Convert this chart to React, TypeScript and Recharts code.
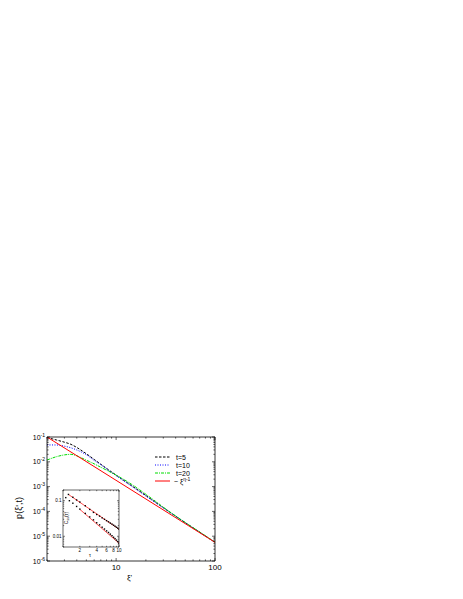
import { ComposedChart, Line, Scatter, XAxis, YAxis, ReferenceLine } from "recharts";

// main panel: p(xi', t) for three times, plus the power-law guide
const xi = [2, 2.5, 3, 3.5, 4, 5, 6, 7, 8, 10, 12, 15, 20, 25, 30, 40, 50, 70, 100];
const pT5 = [0.0955, 0.0755, 0.0617, 0.0504, 0.0378, 0.0211, 0.0125, 0.00794, 0.00543, 0.0029, 0.00176, 0.000962, 0.000437, 0.000233, 0.000141, 6.41e-5, 3.51e-5, 1.45e-5, 5.66e-6];
const pT10 = [0.0479, 0.0476, 0.0427, 0.0365, 0.03, 0.0193, 0.0114, 0.00766, 0.0052, 0.00277, 0.00168, 0.000918, 0.000417, 0.000228, 0.000138, 6.41e-5, 3.51e-5, 1.45e-5, 5.66e-6];
const pT20 = [0.01175, 0.01614, 0.019, 0.02, 0.0174, 0.0116, 0.00826, 0.00603, 0.00462, 0.0029, 0.00193, 0.0011, 0.00049, 0.000256, 0.000148, 6.56e-5, 3.59e-5, 1.48e-5, 5.79e-6];
const fitXi = [2, 100];
const fitP = [0.1, 5.66e-6];

// inset: C_ss(tau)
const tauUpper = [1.25, 1.5, 1.75, 2, 2.5, 3, 3.5, 4, 4.5, 5, 5.5, 6, 6.5, 7, 7.5, 8, 8.5, 9, 9.5, 10];
const cUpper = [0.15, 0.125, 0.105, 0.092, 0.072, 0.057, 0.047, 0.041, 0.037, 0.033, 0.03, 0.0275, 0.0255, 0.0235, 0.022, 0.0205, 0.0192, 0.018, 0.0169, 0.0158];
const tauLower = [1.12, 1.3, 1.5, 1.75, 2, 2.5, 3, 3.5, 4, 4.5, 5, 5.5, 6, 6.5, 7, 7.5, 8, 8.5, 9, 9.5, 10];
const cLower = [0.122, 0.1, 0.085, 0.069, 0.058, 0.044, 0.035, 0.029, 0.024, 0.021, 0.018, 0.016, 0.0142, 0.0128, 0.0115, 0.0104, 0.0094, 0.0086, 0.0078, 0.0071, 0.0064];
const fitUpperTau = [1.25, 10];
const fitUpperC = [0.15, 0.0158];
const fitLowerTau = [2, 10];
const fitLowerC = [0.057, 0.0064];

const mainXDecades = [10, 100];
const mainYDecades = [1e-6, 1e-5, 1e-4, 1e-3, 1e-2, 1e-1];
const insetXLabels = [2, 4, 6, 8, 10];
const insetYDecades = [0.01, 0.1];

const legendItems = [
  { label: "t=5", color: "#000000", dash: "2.5 1.5" },
  { label: "t=10", color: "#0000ff", dash: "1 1.5" },
  { label: "t=20", color: "#00dd00", dash: "3 1 1 1" },
  { label: "fit", color: "#ff0000", dash: "" },
];

const mainRows = xi.map((x, i) => ({ xi: x, t5: pT5[i], t10: pT10[i], t20: pT20[i] }));
const fitRows = fitXi.map((x, i) => ({ xi: x, p: fitP[i] }));
const upperRows = tauUpper.map((t, i) => ({ tau: t, c: cUpper[i] }));
const lowerRows = tauLower.map((t, i) => ({ tau: t, c: cLower[i] }));
const fitUpperRows = fitUpperTau.map((t, i) => ({ tau: t, c: fitUpperC[i] }));
const fitLowerRows = fitLowerTau.map((t, i) => ({ tau: t, c: fitLowerC[i] }));

const minors = [2, 3, 4, 5, 6, 7, 8, 9];
const mainXTicks = [2, 3, 4, 5, 6, 7, 8, 9, 10, ...minors.map((m) => m * 10), 100];
const mainYTicks = [
  ...mainYDecades.slice(0, -1).flatMap((d) => [d, ...minors.map((m) => m * d)]),
  1e-1,
];
const insetXTicks = [1, 2, 3, 4, 5, 6, 7, 8, 9, 10];
const insetYTicks = [0.005, 0.006, 0.007, 0.008, 0.009, 0.01, ...minors.map((m) => m * 0.01), 0.1, 0.2];

const PLOT_W = 168;
const PLOT_H = 124;
const INSET_W = 56;
const INSET_H = 57;

function isDecade(v: number) {
  const l = Math.log10(v);
  return Math.abs(l - Math.round(l)) < 1e-6;
}

function MainXTick({ x, y, payload }: any) {
  const v = payload.value;
  const major = mainXDecades.includes(v);
  const len = major ? 3 : 1.6;
  return (
    <g>
      <line x1={x} y1={y} x2={x} y2={y - len} stroke="#000" strokeWidth={0.6} />
      <line x1={x} y1={y - PLOT_H} x2={x} y2={y - PLOT_H + len} stroke="#000" strokeWidth={0.6} />
      {major && (
        <text x={x} y={y + 9} textAnchor="middle" fontSize={8} fill="#000">
          {v}
        </text>
      )}
    </g>
  );
}

function MainYTick({ x, y, payload }: any) {
  const v = payload.value;
  const major = isDecade(v);
  const len = major ? 3 : 1.6;
  const exp = Math.round(Math.log10(v));
  return (
    <g>
      <line x1={x} y1={y} x2={x + len} y2={y} stroke="#000" strokeWidth={0.6} />
      <line x1={x + PLOT_W} y1={y} x2={x + PLOT_W - len} y2={y} stroke="#000" strokeWidth={0.6} />
      {major && (
        <text x={x - 2} y={y + 2.5} textAnchor="end" fontSize={7} fill="#000">
          <tspan>10</tspan>
          <tspan dy={-3} fontSize={5}>{exp}</tspan>
        </text>
      )}
    </g>
  );
}

function InsetXTick({ x, y, payload }: any) {
  const v = payload.value;
  const len = v === 10 ? 2 : 1.2;
  return (
    <g>
      <line x1={x} y1={y} x2={x} y2={y - len} stroke="#000" strokeWidth={0.5} />
      <line x1={x} y1={y - INSET_H} x2={x} y2={y - INSET_H + len} stroke="#000" strokeWidth={0.5} />
      {insetXLabels.includes(v) && (
        <text x={x} y={y + 5} textAnchor="middle" fontSize={4.5} fill="#000">
          {v}
        </text>
      )}
    </g>
  );
}

function InsetYTick({ x, y, payload }: any) {
  const v = payload.value;
  const major = insetYDecades.includes(v);
  const len = major ? 2 : 1.2;
  return (
    <g>
      <line x1={x} y1={y} x2={x + len} y2={y} stroke="#000" strokeWidth={0.5} />
      <line x1={x + INSET_W} y1={y} x2={x + INSET_W - len} y2={y} stroke="#000" strokeWidth={0.5} />
      {major && (
        <text x={x - 1.5} y={y + 1.6} textAnchor="end" fontSize={4.5} fill="#000">
          {v}
        </text>
      )}
    </g>
  );
}

function MainLegend() {
  return (
    <svg width={60} height={36} style={{ position: "absolute", left: 154, top: 452 }}>
      {legendItems.map((it, i) => {
        const cy = 5 + i * 8;
        return (
          <g key={it.label}>
            <line x1={1} y1={cy} x2={16} y2={cy} stroke={it.color} strokeWidth={1} strokeDasharray={it.dash || undefined} />
            {it.label === "fit" ? (
              <text x={20} y={cy + 2.5} fontSize={7} fill="#000">
                <tspan>~ ξ</tspan>
                <tspan dy={-3} fontSize={5}>η-1</tspan>
              </text>
            ) : (
              <text x={22} y={cy + 2.5} fontSize={7} fill="#000">
                {it.label}
              </text>
            )}
          </g>
        );
      })}
    </svg>
  );
}

export default function App() {
  return (
    <div style={{ position: "absolute", left: 0, top: 0, width: 463, height: 599, background: "#fff", fontFamily: "'Liberation Sans', Arial, sans-serif" }}>
      <ComposedChart width={463} height={599} data={mainRows} margin={{ top: 437, right: 248, bottom: 18, left: 17 }}>
        <XAxis
          dataKey="xi"
          type="number"
          scale="log"
          domain={[2, 100]}
          allowDataOverflow
          ticks={mainXTicks}
          interval={0}
          tick={<MainXTick />}
          tickLine={false}
          tickSize={0}
          tickMargin={0}
          height={20}
          axisLine={{ stroke: "#000", strokeWidth: 0.8 }}
        />
        <YAxis
          type="number"
          scale="log"
          domain={[1e-6, 0.1]}
          allowDataOverflow
          ticks={mainYTicks}
          interval={0}
          tick={<MainYTick />}
          tickLine={false}
          tickSize={0}
          tickMargin={0}
          width={30}
          axisLine={{ stroke: "#000", strokeWidth: 0.8 }}
        />
        <ReferenceLine y={0.1} stroke="#000" strokeWidth={0.8} />
        <ReferenceLine x={100} stroke="#000" strokeWidth={0.8} />
        <Line type="monotone" dataKey="t5" stroke="#000000" strokeWidth={1} strokeDasharray="2.5 1.5" dot={false} isAnimationActive={false} />
        <Line type="monotone" dataKey="t10" stroke="#0000ff" strokeWidth={1} strokeDasharray="1 1.5" dot={false} isAnimationActive={false} />
        <Line type="monotone" dataKey="t20" stroke="#00dd00" strokeWidth={1} strokeDasharray="3 1 1 1" dot={false} isAnimationActive={false} />
        <Line data={fitRows} dataKey="p" type="linear" stroke="#ff0000" strokeWidth={1} dot={false} isAnimationActive={false} />
      </ComposedChart>

      <MainLegend />

      <div style={{ position: "absolute", left: 40, top: 484 }}>
        <ComposedChart width={85} height={80} margin={{ top: 6, right: 6, bottom: 5, left: 3 }}>
          <XAxis
            dataKey="tau"
            type="number"
            scale="log"
            domain={[1, 10]}
            allowDataOverflow
            ticks={insetXTicks}
            interval={0}
            tick={<InsetXTick />}
            tickLine={false}
            tickSize={0}
            tickMargin={0}
            height={12}
            axisLine={{ stroke: "#000", strokeWidth: 0.6 }}
          />
          <YAxis
            type="number"
            scale="log"
            domain={[0.005, 0.2]}
            allowDataOverflow
            ticks={insetYTicks}
            interval={0}
            tick={<InsetYTick />}
            tickLine={false}
            tickSize={0}
            tickMargin={0}
            width={20}
            axisLine={{ stroke: "#000", strokeWidth: 0.6 }}
          />
          <ReferenceLine y={0.2} stroke="#000" strokeWidth={0.6} />
          <ReferenceLine x={10} stroke="#000" strokeWidth={0.6} />
          <Scatter data={upperRows} dataKey="c" fill="#000" isAnimationActive={false}
            shape={(p: any) => <rect x={p.cx - 0.7} y={p.cy - 0.7} width={1.4} height={1.4} fill="#000" />} />
          <Scatter data={lowerRows} dataKey="c" fill="#000" isAnimationActive={false}
            shape={(p: any) => <rect x={p.cx - 0.7} y={p.cy - 0.7} width={1.4} height={1.4} fill="#000" />} />
          <Line data={fitUpperRows} dataKey="c" type="linear" stroke="#ff0000" strokeWidth={0.7} dot={false} isAnimationActive={false} />
          <Line data={fitLowerRows} dataKey="c" type="linear" stroke="#ff0000" strokeWidth={0.7} dot={false} isAnimationActive={false} />
        </ComposedChart>
      </div>

      <div style={{ position: "absolute", left: 19, top: 508, transform: "translate(-50%, -50%) rotate(-90deg)", fontSize: 9, whiteSpace: "nowrap" }}>
        p(ξ',t)
      </div>
      <div style={{ position: "absolute", left: 127, top: 573, fontSize: 8 }}>
        ξ'
      </div>
      <div style={{ position: "absolute", left: 67, top: 518, transform: "translate(-50%, -50%) rotate(-90deg)", fontSize: 5, whiteSpace: "nowrap", lineHeight: 1 }}>
        C<span style={{ fontSize: 3.5, verticalAlign: "-1px" }}>ss</span>(τ)
      </div>
      <div style={{ position: "absolute", left: 89, top: 552, fontSize: 5 }}>τ</div>
    </div>
  );
}
